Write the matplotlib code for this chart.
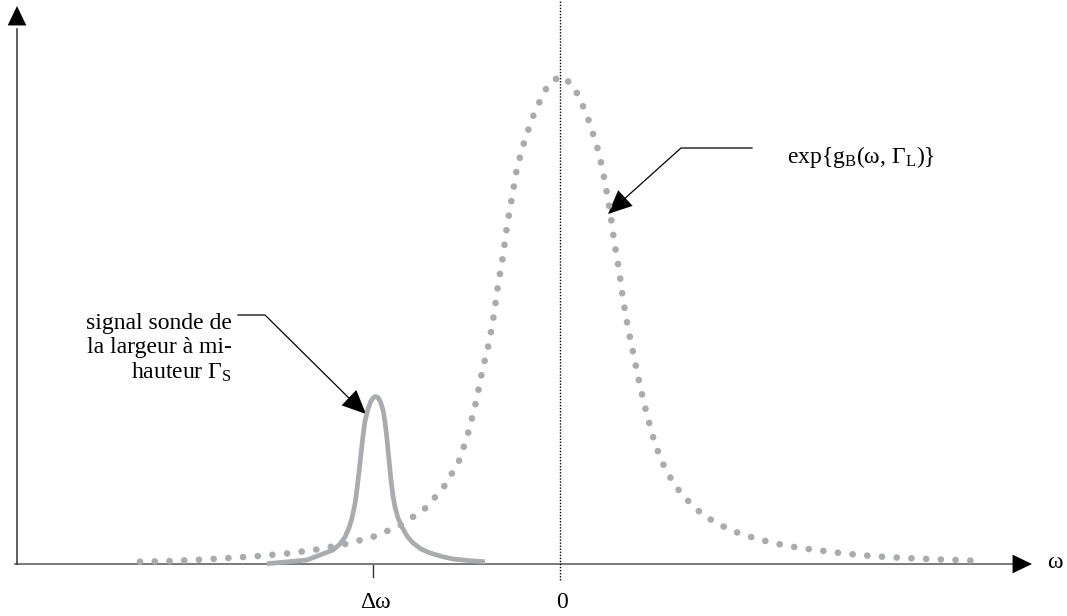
import matplotlib
matplotlib.use("Agg")
import matplotlib.pyplot as plt
from matplotlib.patches import FancyArrowPatch

plt.rcParams['font.family'] = ['Liberation Serif', 'DejaVu Serif']
plt.rcParams['mathtext.fontset'] = 'custom'
plt.rcParams['mathtext.rm'] = 'Liberation Serif'
plt.rcParams['mathtext.it'] = 'Liberation Serif:italic'

# courbe de gain Brillouin exp{gB(w, GL)} (pointillés), centrée sur 0
gain_w = [-420, -389, -360, -331, -301, -271, -242, -213, -184, -157, -133, -114,
          -100, -91, -84, -78, -71, -66, -62, -57, -53, -48, -43, -35, -25, -12, 0,
          12, 19, 25, 30, 39, 45, 50, 54, 59, 63, 68, 74, 80, 87, 95, 106, 122,
          144, 170, 197, 227, 256, 286, 315, 345, 374, 404, 419]
gain_a = [2.3, 3, 4.3, 6, 8, 10.7, 14.7, 20.3, 28, 40, 57, 80,
          105, 134, 162, 192, 221, 250, 279, 308, 338, 367, 396, 425, 453, 479, 488,
          480, 467, 453, 440, 411, 382, 353, 324, 294, 265, 236, 207, 178, 149, 120, 93, 69,
          48, 34, 25, 18, 14, 10.3, 7.7, 6, 4.7, 3.7, 3]

# signal sonde centré en dw
sonde_w = [-293, -253, -240, -227, -220, -215, -211, -208, -205, -203, -201, -199, -197,
           -195, -192, -189.5, -187, -184.5, -182, -179.5, -177, -175, -173, -171, -169,
           -167, -165, -162, -158, -153, -147, -139, -130, -118, -107, -90, -75]
sonde_a = [0.3, 4, 9, 14, 20, 27, 36, 46, 60, 75, 92, 110, 128,
           143, 155, 162, 166, 167.5, 166.5, 162, 154, 142, 125, 104, 84,
           68, 57, 46, 37, 28, 21, 15, 11, 7.5, 5, 3.3, 2.3]

dw = -187
tick_pos = [dw, 0]
tick_txt = ['Δω', '0']

fig = plt.figure(figsize=(10.67, 6.16), dpi=100)
ax = fig.add_axes([0, 0, 1, 1])
ax.set_xlim(-560, 507)
ax.set_ylim(-52, 564)
ax.axis('off')

gris = '#a9abae'
ax.plot(gain_w, gain_a, color=gris, lw=4.8, linestyle=(0, (0.01, 2.2)),
        dash_capstyle='round', zorder=2)
ax.plot(sonde_w, sonde_a, color=gris, lw=3.4, solid_capstyle='butt',
        solid_joinstyle='round', zorder=3)

# axes avec flèches
ax.plot([-545, 453], [0, 0], color='#555555', lw=1.1, zorder=1)
ax.add_patch(FancyArrowPatch((440, 0), (472, 0), arrowstyle='-|>,head_length=1.0,head_width=0.48',
                             mutation_scale=14, color='black', lw=0, shrinkA=0, shrinkB=0))
ax.plot([-543, -543], [0, 535], color='#333333', lw=1.1, zorder=1)
ax.add_patch(FancyArrowPatch((-543, 520), (-543, 558), arrowstyle='-|>,head_length=1.0,head_width=0.48',
                             mutation_scale=14, color='black', lw=0, shrinkA=0, shrinkB=0))

# ligne verticale en 0
ax.plot([0, 0], [-16, 564], color='black', lw=1.0, linestyle=(0, (1, 1.2)), zorder=1)

# graduations
ax.plot([dw, dw], [-1, -13], color='#333333', lw=1.0)
for p, t in zip(tick_pos, tick_txt):
    ax.text(p + 2, -39, t, ha='center', va='center', fontsize=17)
ax.text(495, 2, 'ω', ha='center', va='center', fontsize=17)

# annotation gain
ax.plot([192, 121, 52], [416, 416, 354], color='black', lw=0.9)
ax.add_patch(FancyArrowPatch((72, 372), (48, 350), arrowstyle='-|>,head_length=1.0,head_width=0.45',
                             mutation_scale=17, color='black', lw=0, shrinkA=0, shrinkB=0))
ax.text(227, 401, r'$\mathrm{exp\{g_{B}(ω,\,Γ_{L})\}}$', ha='left', va='baseline', fontsize=17)

# annotation signal sonde
ax.plot([-322, -295, -198], [249, 249, 153], color='black', lw=0.9)
ax.add_patch(FancyArrowPatch((-217, 172), (-194, 150), arrowstyle='-|>,head_length=1.0,head_width=0.45',
                             mutation_scale=17, color='black', lw=0, shrinkA=0, shrinkB=0))
ax.text(-328, 240, 'signal sonde de', ha='right', va='center', fontsize=17)
ax.text(-328, 216, 'la largeur à mi-', ha='right', va='center', fontsize=17)
ax.text(-328, 192, r'hauteur $\mathrm{Γ_{S}}$', ha='right', va='center', fontsize=17)

fig.savefig('out.png', dpi=100)
